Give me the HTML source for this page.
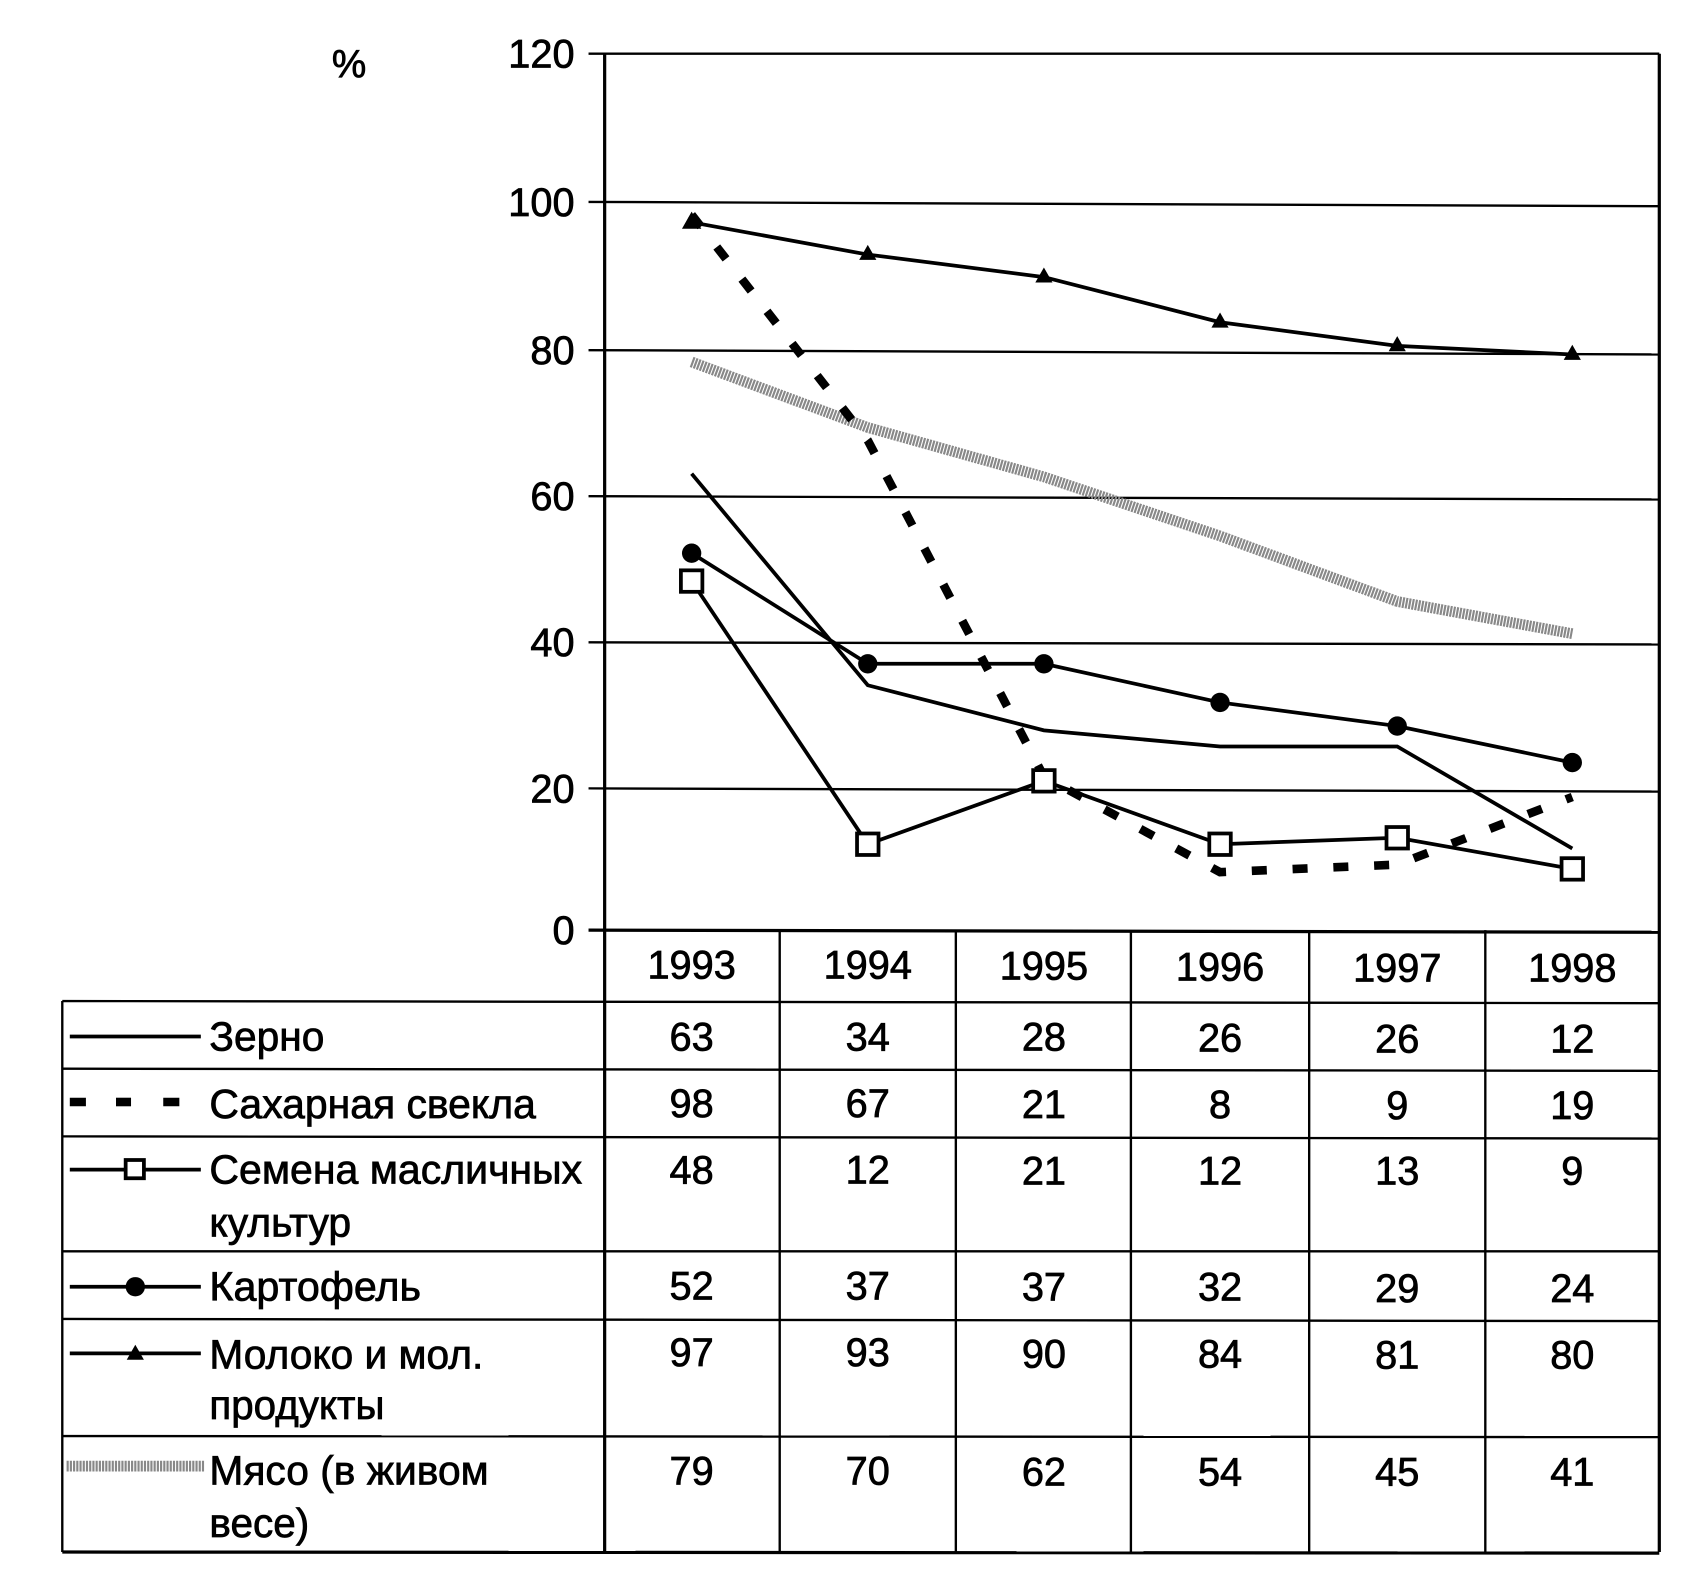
<!DOCTYPE html>
<html><head><meta charset="utf-8"><style>html,body{margin:0;padding:0;background:#fff}svg{display:block}</style></head>
<body>
<svg width="1684" height="1595" viewBox="0 0 1568 1485" preserveAspectRatio="none" xmlns="http://www.w3.org/2000/svg" font-family="Liberation Sans, Arial, sans-serif" fill="#000">
<g stroke="#000" stroke-width="2.2" fill="none">
<line x1="548" y1="50" x2="1545" y2="50"/>
<line x1="548" y1="188" x2="1545" y2="192"/>
<line x1="548" y1="326" x2="1545" y2="330"/>
<line x1="548" y1="462" x2="1545" y2="465"/>
<line x1="548" y1="598" x2="1545" y2="600"/>
<line x1="548" y1="734" x2="1545" y2="737"/>
<line x1="548" y1="866" x2="1545" y2="868" stroke-width="3"/>
<line x1="563" y1="50" x2="563" y2="1445" stroke-width="3"/>
<line x1="1545" y1="50" x2="1545" y2="1445" stroke-width="3"/>
<line x1="726" y1="866" x2="726" y2="1445"/>
<line x1="890" y1="866" x2="890" y2="1445"/>
<line x1="1053" y1="866" x2="1053" y2="1445"/>
<line x1="1219" y1="866" x2="1219" y2="1445"/>
<line x1="1383" y1="866" x2="1383" y2="1445"/>
<line x1="58" y1="932" x2="58" y2="1445"/>
<line x1="58" y1="932" x2="1545" y2="934"/>
<line x1="58" y1="995" x2="1545" y2="997"/>
<line x1="58" y1="1058" x2="1545" y2="1060"/>
<line x1="58" y1="1165" x2="1545" y2="1165"/>
<line x1="58" y1="1228" x2="1545" y2="1230"/>
<line x1="58" y1="1337" x2="1545" y2="1338"/>
<line x1="58" y1="1445" x2="1545" y2="1446" stroke-width="3"/>
</g>
<g stroke="#000" stroke-width="0.7">
<text x="325" y="72" font-size="36" text-anchor="middle">%</text>
<g font-size="37" text-anchor="end">
<text x="535" y="63">120</text><text x="535" y="201">100</text><text x="535" y="339">80</text>
<text x="535" y="475">60</text><text x="535" y="611">40</text><text x="535" y="747">20</text><text x="535" y="879">0</text>
</g>
</g>
<polyline points="644,337 808,398 972,444 1136,499 1301,560 1464,590" fill="none" stroke="#888" stroke-width="10" stroke-dasharray="2 1"/>
<polyline points="644,200 808,410 972,723 1136,812 1301,805 1464,742" fill="none" stroke="#000" stroke-width="8" stroke-dasharray="14 24"/>
<polyline points="644,441 808,638 972,680 1136,695 1301,695 1464,790" fill="none" stroke="#000" stroke-width="3.5"/>
<polyline points="644,541 808,786 972,727 1136,786 1301,780 1464,809" fill="none" stroke="#000" stroke-width="3.5"/>
<polyline points="644,515 808,618 972,618 1136,654 1301,676 1464,710" fill="none" stroke="#000" stroke-width="3.5"/>
<polyline points="644,207 808,237 972,258 1136,300 1301,322 1464,330" fill="none" stroke="#000" stroke-width="3.5"/>
<g fill="#fff" stroke="#000" stroke-width="3.5">
<rect x="634" y="531" width="20" height="20"/><rect x="798" y="776" width="20" height="20"/><rect x="962" y="717" width="20" height="20"/>
<rect x="1126" y="776" width="20" height="20"/><rect x="1291" y="770" width="20" height="20"/><rect x="1454" y="799" width="20" height="20"/>
</g>
<g>
<circle cx="644" cy="515" r="9"/><circle cx="808" cy="618" r="9"/><circle cx="972" cy="618" r="9"/>
<circle cx="1136" cy="654" r="9"/><circle cx="1301" cy="676" r="9"/><circle cx="1464" cy="710" r="9"/>
<path d="M644,197 l-9,16 h18z M808,228 l-8,14 h16z M972,249 l-8,14 h16z M1136,291 l-8,14 h16z M1301,313 l-8,14 h16z M1464,321 l-8,14 h16z"/>
</g>
<g font-size="37" text-anchor="middle" stroke="#000" stroke-width="0.7">
<text x="644" y="911">1993</text><text x="808" y="911">1994</text><text x="972" y="912">1995</text><text x="1136" y="913">1996</text><text x="1301" y="914">1997</text><text x="1464" y="914">1998</text>
<text x="644" y="978">63</text><text x="808" y="978">34</text><text x="972" y="978">28</text><text x="1136" y="979">26</text><text x="1301" y="980">26</text><text x="1464" y="980">12</text>
<text x="644" y="1040">98</text><text x="808" y="1040">67</text><text x="972" y="1041">21</text><text x="1136" y="1041">8</text><text x="1301" y="1042">9</text><text x="1464" y="1042">19</text>
<text x="644" y="1102">48</text><text x="808" y="1102">12</text><text x="972" y="1103">21</text><text x="1136" y="1103">12</text><text x="1301" y="1103">13</text><text x="1464" y="1103">9</text>
<text x="644" y="1210">52</text><text x="808" y="1210">37</text><text x="972" y="1211">37</text><text x="1136" y="1211">32</text><text x="1301" y="1212">29</text><text x="1464" y="1212">24</text>
<text x="644" y="1272">97</text><text x="808" y="1272">93</text><text x="972" y="1273">90</text><text x="1136" y="1273">84</text><text x="1301" y="1274">81</text><text x="1464" y="1274">80</text>
<text x="644" y="1382">79</text><text x="808" y="1382">70</text><text x="972" y="1383">62</text><text x="1136" y="1383">54</text><text x="1301" y="1383">45</text><text x="1464" y="1383">41</text>
</g>
<g font-size="38" stroke="#000" stroke-width="0.7">
<text x="195" y="978" textLength="107" lengthAdjust="spacingAndGlyphs">Зерно</text>
<text x="195" y="1041" textLength="304" lengthAdjust="spacingAndGlyphs">Сахарная свекла</text>
<text x="195" y="1102" textLength="347" lengthAdjust="spacingAndGlyphs">Семена масличных</text>
<text x="195" y="1151" textLength="132" lengthAdjust="spacingAndGlyphs">культур</text>
<text x="195" y="1211" textLength="197" lengthAdjust="spacingAndGlyphs">Картофель</text>
<text x="195" y="1274" textLength="255" lengthAdjust="spacingAndGlyphs">Молоко и мол.</text>
<text x="195" y="1321" textLength="163" lengthAdjust="spacingAndGlyphs">продукты</text>
<text x="195" y="1382" textLength="260" lengthAdjust="spacingAndGlyphs">Мясо (в живом</text>
<text x="195" y="1431" textLength="93" lengthAdjust="spacingAndGlyphs">весе)</text>
</g>
<g stroke="#000" stroke-width="3.5">
<line x1="65" y1="965" x2="187" y2="965"/>
<line x1="65" y1="1089" x2="187" y2="1089"/>
<line x1="65" y1="1198" x2="187" y2="1198"/>
<line x1="65" y1="1260" x2="187" y2="1260"/>
</g>
<g stroke="#000" stroke-width="8"><line x1="65" y1="1026" x2="80" y2="1026"/><line x1="108" y1="1026" x2="122" y2="1026"/><line x1="152" y1="1026" x2="167" y2="1026"/></g>
<rect x="117" y="1080" width="17" height="17" fill="#fff" stroke="#000" stroke-width="3.5"/>
<circle cx="126" cy="1198" r="9"/>
<path d="M126,1252 l-8,14 h16z"/>
<line x1="62" y1="1365" x2="190" y2="1365" stroke="#888" stroke-width="10" stroke-dasharray="2 1"/>
</svg>
</body></html>
